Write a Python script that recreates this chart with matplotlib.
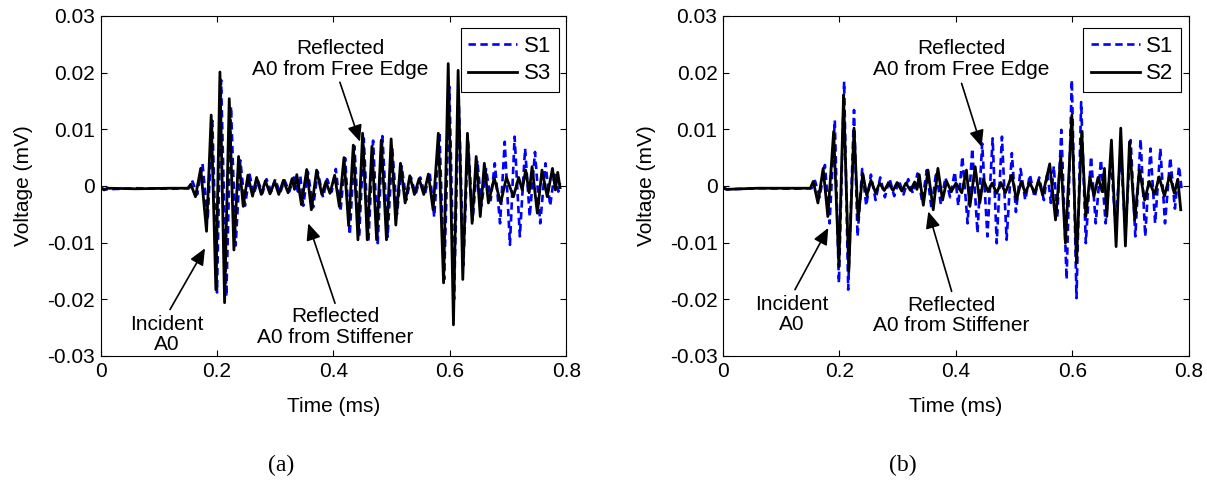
"""
Lamb wave signals recorded by the PZT sensors: incident A0 and its reflections
from the stiffener and the free edge. Panel (a) S1 vs S3, panel (b) S1 vs S2.
"""
import matplotlib
matplotlib.use("Agg")
import matplotlib.pyplot as plt

plt.rcParams['font.family'] = ['Liberation Sans', 'DejaVu Sans']
plt.rcParams['axes.unicode_minus'] = False

FONT_SIZE = 15

# ---- panel (a): peak/trough samples, time in ms, voltage in mV ----
t_a_s3 = [0.000, 0.006, 0.012, 0.060, 0.120, 0.150,
          0.155, 0.163, 0.172, 0.182, 0.190, 0.198, 0.205, 0.213, 0.221, 0.229, 0.237, 0.245, 0.253,
          0.261, 0.268, 0.276, 0.283, 0.291, 0.299, 0.306, 0.314, 0.322, 0.329, 0.333, 0.337,
          0.345, 0.354, 0.362, 0.371, 0.380, 0.387, 0.394,
          0.402, 0.410, 0.418, 0.426, 0.434, 0.442, 0.450, 0.458, 0.466, 0.474, 0.482, 0.491, 0.499, 0.507,
          0.515, 0.523, 0.531, 0.539, 0.547, 0.555, 0.563, 0.571,
          0.580, 0.589, 0.597, 0.606, 0.614, 0.622, 0.630, 0.638, 0.645, 0.652, 0.659, 0.666,
          0.676, 0.687, 0.697, 0.709, 0.718, 0.724, 0.730, 0.736, 0.741, 0.750, 0.758, 0.767,
          0.776, 0.781, 0.785, 0.789]
v_a_s3 = [-0.0003, -0.0007, -0.0004, -0.0005, -0.0004, -0.0004,
          0.0003, -0.0019, 0.0031, -0.0080, 0.0125, -0.0183, 0.0201, -0.0206, 0.0154, -0.0113, 0.0052, -0.0036, 0.0019,
          -0.0018, 0.0015, -0.0015, 0.0009, -0.0014, 0.0008, -0.0015, 0.0010, -0.0012, 0.0013, -0.0006, 0.0020,
          -0.0033, 0.0029, -0.0042, 0.0028, -0.0015, 0.0008, -0.0013,
          0.0019, -0.0036, 0.0050, -0.0070, 0.0072, -0.0095, 0.0093, -0.0095, 0.0070, -0.0095, 0.0081, -0.0095, 0.0083, -0.0069,
          0.0040, -0.0030, 0.0018, -0.0015, 0.0013, -0.0015, 0.0021, -0.0042,
          0.0093, -0.0171, 0.0216, -0.0245, 0.0204, -0.0165, 0.0093, -0.0066, 0.0052, -0.0054, 0.0040, -0.0030,
          0.0014, -0.0030, 0.0015, -0.0019, 0.0015, -0.0007, 0.0028, -0.0012, 0.0034, -0.0048, 0.0028, -0.0019,
          0.0031, -0.0007, 0.0024, -0.0003]

t_a_s1 = [0.000, 0.008, 0.060, 0.120, 0.152,
          0.158, 0.166, 0.175, 0.184, 0.192, 0.200, 0.207, 0.216, 0.224, 0.232, 0.240, 0.248, 0.256,
          0.263, 0.270, 0.278, 0.285, 0.293, 0.300, 0.308, 0.316, 0.324, 0.332, 0.339, 0.343,
          0.348, 0.356, 0.365, 0.373, 0.382, 0.389, 0.397,
          0.404, 0.412, 0.420, 0.428, 0.436, 0.444, 0.452, 0.460, 0.468, 0.476, 0.484, 0.493, 0.501, 0.509,
          0.517, 0.525, 0.533, 0.541, 0.549, 0.557, 0.565, 0.573,
          0.582, 0.590, 0.599, 0.607, 0.615, 0.623, 0.631, 0.639, 0.647, 0.654, 0.662, 0.670,
          0.677, 0.686, 0.694, 0.703, 0.711, 0.720, 0.729, 0.737, 0.746, 0.755, 0.764, 0.772,
          0.780, 0.786, 0.789]
v_a_s1 = [-0.0004, -0.0006, -0.0004, -0.0005, -0.0004,
          0.0008, -0.0015, 0.0040, -0.0060, 0.0115, -0.0188, 0.0187, -0.0195, 0.0140, -0.0105, 0.0045, -0.0035, 0.0020,
          -0.0015, 0.0010, -0.0013, 0.0012, -0.0010, 0.0012, -0.0013, 0.0010, -0.0010, 0.0015, -0.0010, 0.0018,
          -0.0035, 0.0025, -0.0038, 0.0025, -0.0020, 0.0012, -0.0010,
          0.0030, -0.0045, 0.0049, -0.0086, 0.0070, -0.0090, 0.0084, -0.0098, 0.0080, -0.0101, 0.0088, -0.0090, 0.0065, -0.0050,
          0.0035, -0.0025, 0.0015, -0.0015, 0.0015, -0.0015, 0.0025, -0.0055,
          0.0095, -0.0165, 0.0175, -0.0200, 0.0155, -0.0140, 0.0080, -0.0060, 0.0045, -0.0035, 0.0030, -0.0025,
          0.0040, -0.0066, 0.0078, -0.0104, 0.0087, -0.0089, 0.0066, -0.0054, 0.0060, -0.0066, 0.0040, -0.0035,
          0.0025, -0.0010, 0.0005]

# ---- panel (b) ----
t_b_s2 = [0.000, 0.006, 0.060, 0.120, 0.150,
          0.155, 0.163, 0.172, 0.180, 0.190, 0.199, 0.207, 0.216, 0.225, 0.232, 0.240, 0.247,
          0.254, 0.262, 0.269, 0.277, 0.284, 0.292, 0.299, 0.307, 0.314, 0.322, 0.329, 0.333, 0.337,
          0.344, 0.352, 0.361, 0.369, 0.377, 0.384, 0.392, 0.400, 0.410,
          0.418, 0.424, 0.433, 0.441, 0.447, 0.455, 0.462, 0.470, 0.477, 0.485, 0.496, 0.504,
          0.512, 0.519, 0.527, 0.535, 0.542, 0.549, 0.561, 0.571,
          0.580, 0.588, 0.599, 0.607, 0.616, 0.623, 0.630, 0.637, 0.644, 0.651, 0.655, 0.659,
          0.667, 0.675, 0.683, 0.691, 0.698, 0.707, 0.715, 0.724, 0.732, 0.741, 0.749, 0.758,
          0.767, 0.775, 0.781, 0.786]
v_b_s2 = [-0.0003, -0.0006, -0.0004, -0.0004, -0.0004,
          0.0008, -0.0030, 0.0031, -0.0054, 0.0096, -0.0142, 0.0160, -0.0151, 0.0102, -0.0060, 0.0022, -0.0017,
          0.0010, -0.0012, 0.0005, -0.0008, 0.0005, -0.0008, 0.0006, -0.0009, 0.0005, -0.0008, 0.0007, -0.0006, 0.0020,
          -0.0034, 0.0028, -0.0042, 0.0031, -0.0025, 0.0008, -0.0010, 0.0005, -0.0012,
          0.0028, -0.0036, 0.0034, -0.0030, 0.0012, -0.0010, 0.0005, -0.0013, 0.0006, -0.0012, 0.0019, -0.0025,
          0.0008, -0.0012, 0.0006, -0.0013, 0.0010, -0.0016, 0.0039, -0.0060,
          0.0052, -0.0101, 0.0125, -0.0136, 0.0096, -0.0054, 0.0016, -0.0018, 0.0015, -0.0010, 0.0031, -0.0054,
          0.0081, -0.0107, 0.0102, -0.0106, 0.0078, -0.0060, 0.0029, -0.0025, 0.0008, -0.0015, 0.0016, -0.0018,
          0.0019, -0.0013, 0.0012, -0.0042]

t_b_s1 = [0.000, 0.008, 0.060, 0.120, 0.152,
          0.158, 0.166, 0.175, 0.183, 0.192, 0.199, 0.208, 0.215, 0.225, 0.231, 0.239, 0.246,
          0.254, 0.262, 0.270, 0.278, 0.286, 0.294, 0.302, 0.310, 0.318, 0.326, 0.334,
          0.342, 0.350, 0.358, 0.366, 0.374, 0.382, 0.390, 0.398, 0.404,
          0.411, 0.420, 0.428, 0.437, 0.445, 0.454, 0.463, 0.470, 0.479, 0.487, 0.496, 0.503,
          0.511, 0.519, 0.527, 0.535, 0.543, 0.551, 0.557, 0.563, 0.568, 0.574,
          0.581, 0.590, 0.599, 0.607, 0.615, 0.623, 0.632, 0.640, 0.649, 0.657, 0.666, 0.674,
          0.683, 0.691, 0.700, 0.708, 0.717, 0.725, 0.734, 0.742, 0.751, 0.759, 0.768, 0.776,
          0.783, 0.788]
v_b_s1 = [-0.0004, -0.0006, -0.0004, -0.0005, -0.0004,
          0.0009, -0.0020, 0.0037, -0.0066, 0.0116, -0.0171, 0.0184, -0.0183, 0.0134, -0.0089, 0.0030, -0.0035,
          0.0020, -0.0025, 0.0015, -0.0020, 0.0013, -0.0018, 0.0010, -0.0015, 0.0012, -0.0013, 0.0022,
          -0.0028, 0.0028, -0.0040, 0.0025, -0.0032, 0.0015, -0.0020, 0.0025, -0.0035,
          0.0052, -0.0066, 0.0066, -0.0083, 0.0075, -0.0089, 0.0084, -0.0101, 0.0087, -0.0095, 0.0058, -0.0046,
          0.0030, -0.0025, 0.0020, -0.0020, 0.0015, -0.0025, 0.0025, -0.0030, 0.0035, -0.0055,
          0.0099, -0.0165, 0.0187, -0.0198, 0.0148, -0.0101, 0.0052, -0.0066, 0.0046, -0.0066, 0.0050, -0.0070,
          0.0060, -0.0083, 0.0081, -0.0089, 0.0083, -0.0089, 0.0066, -0.0066, 0.0066, -0.0066, 0.0050, -0.0040,
          0.0035, -0.0010]

# text labels and arrows: (text, text centre, arrow tail, arrow head)
notes_a = [("Reflected\nA0 from Free Edge", (0.411, 0.0224), (0.411, 0.0183), (0.4455, 0.0078)),
           ("Incident\nA0", (0.1136, -0.0262), (0.1193, -0.0218), (0.1794, -0.0110)),
           ("Reflected\nA0 from Stiffener", (0.4026, -0.0249), (0.4026, -0.0207), (0.3567, -0.0066))]
notes_b = [("Reflected\nA0 from Free Edge", (0.4097, 0.0224), (0.4097, 0.0181), (0.4440, 0.0069)),
           ("Incident\nA0", (0.1180, -0.0227), (0.1236, -0.0183), (0.1808, -0.0074)),
           ("Reflected\nA0 from Stiffener", (0.3926, -0.0229), (0.3926, -0.0186), (0.3525, -0.0045))]


def draw_panel(ax, t1, v1, t2, v2, label2, notes):
    """Plot the S1 reference signal against a second sensor"""
    ax.plot(t1, v1, color=(0, 0, 1), lw=1.9, linestyle=(0, (2.8, 1.7)), label="S1")
    ax.plot(t2, v2, color='black', lw=2.0, label=label2)

    ax.set_xlim(0, 0.8)
    ax.set_ylim(-0.03, 0.03)
    ax.set_xticks([0, 0.2, 0.4, 0.6, 0.8])
    ax.set_xticklabels(["0", "0.2", "0.4", "0.6", "0.8"])
    ax.set_yticks([-0.03, -0.02, -0.01, 0, 0.01, 0.02, 0.03])
    ax.set_yticklabels(["-0.03", "-0.02", "-0.01", "0", "0.01", "0.02", "0.03"])
    ax.tick_params(direction='in', top=True, right=True, length=4, width=0.8,
                   labelsize=FONT_SIZE, pad=4)
    for sp in ax.spines.values():
        sp.set_linewidth(0.8)
    ax.set_xlabel("Time (ms)", fontsize=FONT_SIZE, labelpad=12)
    ax.set_ylabel("Voltage (mV)", fontsize=FONT_SIZE, labelpad=10)

    for text, pos, tail, head in notes:
        ax.text(pos[0], pos[1], text, ha='center', va='center', fontsize=FONT_SIZE,
                linespacing=1.1)
        ax.annotate("", xy=head, xytext=tail,
                    arrowprops=dict(arrowstyle='-|>,head_length=0.5,head_width=0.22',
                                    mutation_scale=20, color='black', lw=1.2,
                                    shrinkA=0, shrinkB=0))

    leg = ax.legend(loc='upper right', bbox_to_anchor=(0.984, 0.965), borderaxespad=0,
                    fontsize=FONT_SIZE + 1, handlelength=2.2, handletextpad=0.3,
                    borderpad=0.35, labelspacing=0.3, fancybox=False, framealpha=1)
    leg.get_frame().set_edgecolor('black')
    leg.get_frame().set_linewidth(0.8)


fig = plt.figure(figsize=(12.07, 4.83), dpi=100)
ax_a = fig.add_axes([0.0833, 0.263, 0.386, 0.704])
ax_b = fig.add_axes([0.599, 0.263, 0.386, 0.704])

draw_panel(ax_a, t_a_s1, v_a_s1, t_a_s3, v_a_s3, "S3", notes_a)
draw_panel(ax_b, t_b_s1, v_b_s1, t_b_s2, v_b_s2, "S2", notes_b)

fig.text(281 / 1207, 1 - 465 / 483, "(a)", ha='center', va='center', fontsize=17,
         family=['Liberation Serif', 'DejaVu Serif'])
fig.text(903 / 1207, 1 - 465 / 483, "(b)", ha='center', va='center', fontsize=17,
         family=['Liberation Serif', 'DejaVu Serif'])

fig.savefig("out.png", dpi=100)
